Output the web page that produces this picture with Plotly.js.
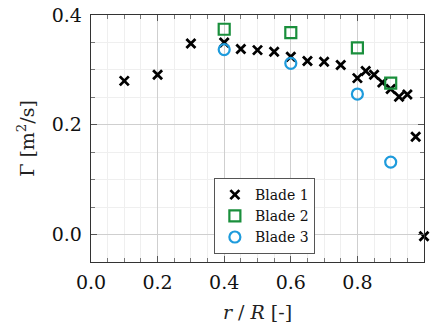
<!DOCTYPE html>
<html>
<head>
<meta charset="utf-8">
<script src="https://cdn.plot.ly/plotly-3.0.1.min.js"></script>
<style>html,body{margin:0;padding:0;background:#fff;}#chart{width:438px;height:329px;}</style>
</head>
<body>
<div id="chart"></div>
<script>
const blade1X = [0.1, 0.2, 0.3, 0.4, 0.45, 0.5, 0.55, 0.6, 0.65, 0.7, 0.75, 0.8, 0.825, 0.85, 0.875, 0.9, 0.925, 0.95, 0.975, 1.0];
const blade1Y = [0.280, 0.291, 0.348, 0.350, 0.338, 0.336, 0.333, 0.324, 0.316, 0.315, 0.309, 0.285, 0.298, 0.291, 0.277, 0.265, 0.251, 0.255, 0.178, -0.003];
const blade2X = [0.4, 0.6, 0.8, 0.9];
const blade2Y = [0.374, 0.368, 0.340, 0.276];
const blade3X = [0.4, 0.6, 0.8, 0.9];
const blade3Y = [0.337, 0.312, 0.256, 0.132];
const seriesNames = ['Blade 1', 'Blade 2', 'Blade 3'];
const xTicks = [0.0, 0.2, 0.4, 0.6, 0.8, 1.0];
const yTicks = [0.0, 0.2, 0.4];

const green = '#1a8f3c';
const blue = '#1e9bdc';
const font = 'DejaVu Serif, serif';

const traces = [
  {x: blade1X, y: blade1Y, name: seriesNames[0], type: 'scatter', mode: 'markers',
   marker: {symbol: 'x-thin-open', size: 9, color: '#000', line: {color: '#000', width: 2.8}}, cliponaxis: false},
  {x: blade2X, y: blade2Y, name: seriesNames[1], type: 'scatter', mode: 'markers',
   marker: {symbol: 'square-open', size: 11, color: green, line: {color: green, width: 2.2}}},
  {x: blade3X, y: blade3Y, name: seriesNames[2], type: 'scatter', mode: 'markers',
   marker: {symbol: 'circle-open', size: 11, color: blue, line: {color: blue, width: 2.2}}}
];

const axisCommon = {
  showline: true, mirror: 'allticks', linecolor: '#333', linewidth: 1.3,
  ticks: 'inside', ticklen: 6, tickcolor: '#555', tickwidth: 1,
  showgrid: true, gridcolor: '#cfcfcf', gridwidth: 1,
  zeroline: false,
  tickfont: {family: font, size: 19, color: '#111'},
  minor: {dtick: 0.05, ticks: 'inside', ticklen: 4, tickcolor: '#777', showgrid: true, gridcolor: '#efefef', gridwidth: 1}
};

const layout = {
  width: 438, height: 329,
  margin: {l: 91, r: 14, t: 15, b: 67},
  paper_bgcolor: '#fff', plot_bgcolor: '#fff',
  showlegend: true,
  font: {family: font, color: '#111'},
  xaxis: Object.assign({}, axisCommon, {
    range: [0, 1], tickvals: xTicks, ticktext: xTicks.map(v => v.toFixed(1)),
    ticklabelstandoff: 3,
    title: {text: '<i>r</i> / <i>R</i> [-]', font: {family: font, size: 19, color: '#222'}, standoff: 13}
  }),
  yaxis: Object.assign({}, axisCommon, {
    range: [-0.05, 0.4], tickvals: yTicks, ticktext: yTicks.map(v => v.toFixed(1)),
    ticklabelstandoff: 4,
    title: {text: 'Γ [m<sup>2</sup>/s]', font: {family: font, size: 19, color: '#222'}, standoff: 12}
  }),
  legend: {
    x: 0.369, y: 0.34, xanchor: 'left', yanchor: 'top',
    bgcolor: '#fff', bordercolor: '#555', borderwidth: 1,
    font: {family: font, size: 14, color: '#111'},
    itemwidth: 30, tracegroupgap: 0
  }
};

Plotly.newPlot('chart', traces, layout, {staticPlot: true, displayModeBar: false});
</script>
</body>
</html>
